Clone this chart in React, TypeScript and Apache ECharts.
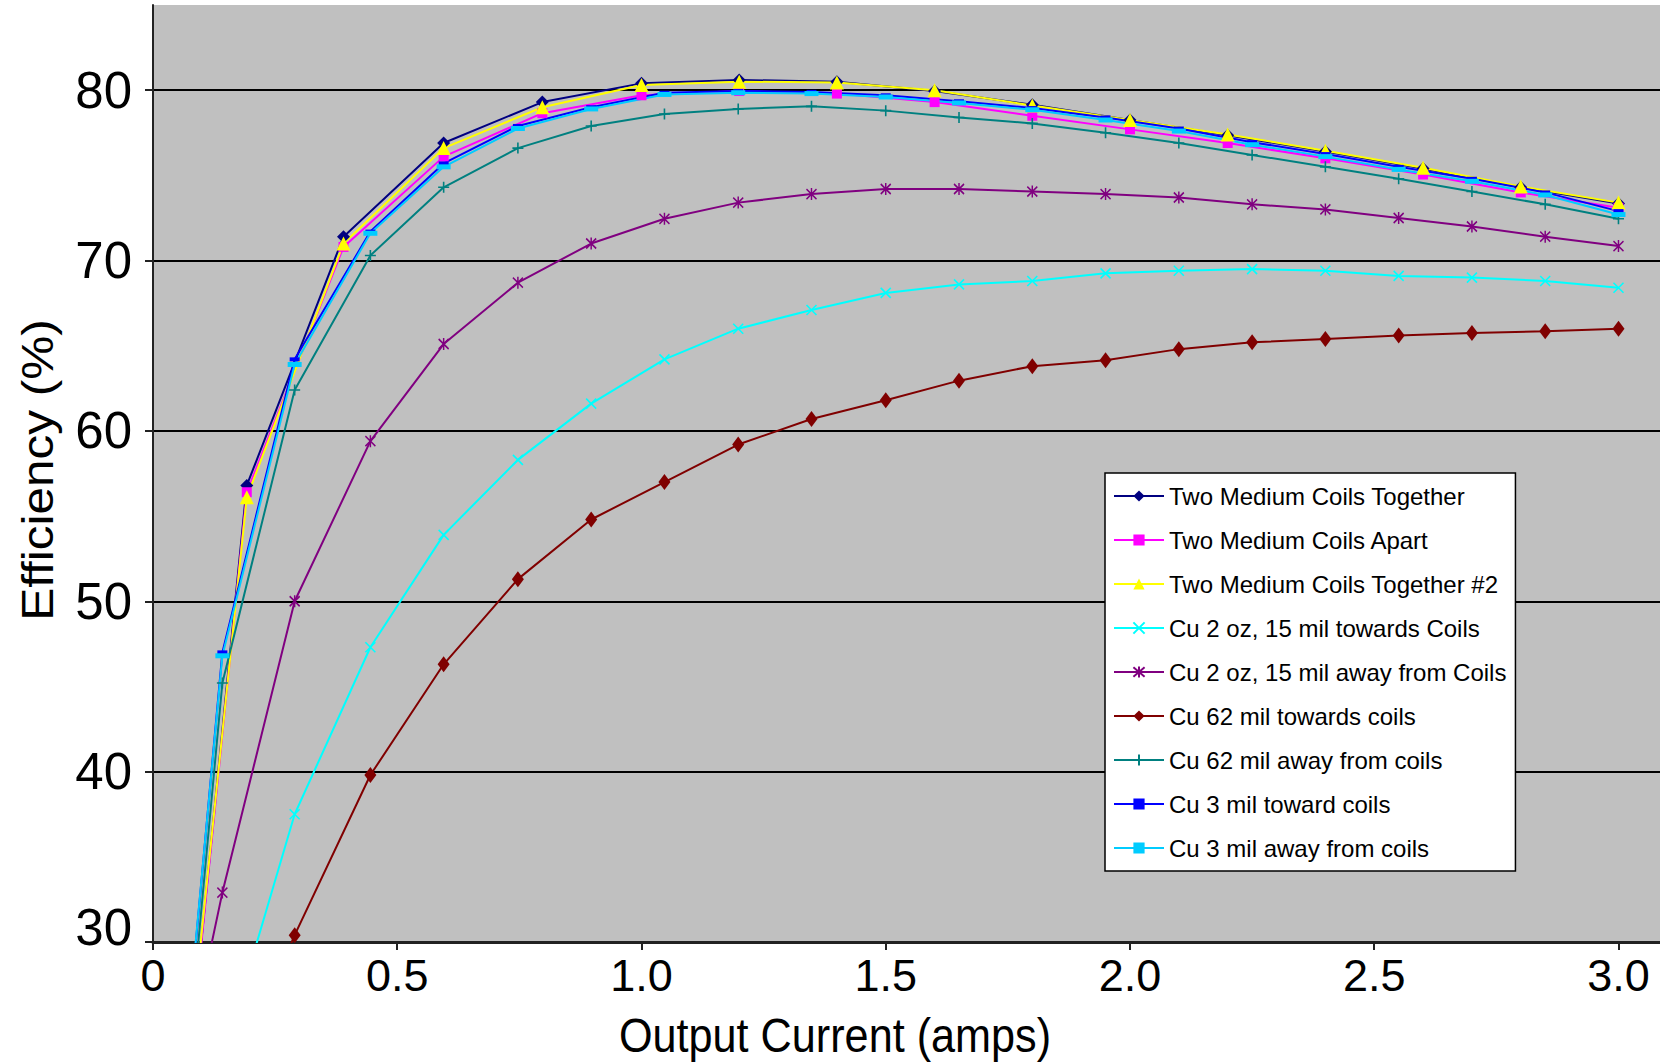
import React, { useEffect, useRef } from 'react';
import * as echarts from 'echarts';

const seriesNames = [
  'Two Medium Coils Together',
  'Two Medium Coils Apart',
  'Two Medium Coils Together #2',
  'Cu 2 oz, 15 mil towards Coils',
  'Cu 2 oz, 15 mil away from Coils',
  'Cu 62 mil towards coils',
  'Cu 62 mil away from coils',
  'Cu 3 mil toward coils',
  'Cu 3 mil away from coils',
];

// current steps (amps)
const xCoarse = [0.08, 0.192, 0.39, 0.595, 0.797, 1.0, 1.2, 1.4, 1.6, 1.8, 2.0, 2.2, 2.4, 2.6, 2.8, 3.0];
const xFine = [0.075, 0.142, 0.29, 0.445, 0.595, 0.747, 0.897, 1.047, 1.198, 1.348, 1.5, 1.65, 1.8, 1.95, 2.1, 2.25, 2.4, 2.55, 2.7, 2.85, 3.0];

// efficiency (%)
const twoTogether = [24.6, 56.8, 71.4, 76.9, 79.3, 80.4, 80.6, 80.5, 79.95, 79.15, 78.25, 77.35, 76.4, 75.4, 74.3, 73.35];
const twoApart = [24.5, 56.4, 70.8, 76.1, 78.65, 79.7, 79.95, 79.8, 79.3, 78.5, 77.7, 76.9, 76.0, 75.05, 74.0, 73.1];
const twoTogether2 = [25.1, 56.1, 71.0, 76.6, 79.0, 80.3, 80.5, 80.45, 80.0, 79.1, 78.25, 77.4, 76.45, 75.45, 74.35, 73.4];
const cu2ozTowards = [16.0, 23.1, 37.5, 47.3, 53.9, 58.3, 61.6, 64.2, 66.0, 67.1, 68.1, 68.6, 68.8, 69.25, 69.4, 69.5, 69.4, 69.1, 69.0, 68.8, 68.4];
const cu2ozAway = [23.8, 32.9, 50.0, 59.4, 65.1, 68.7, 71.0, 72.45, 73.4, 73.9, 74.2, 74.2, 74.05, 73.9, 73.7, 73.3, 73.0, 72.5, 72.0, 71.4, 70.85];
const cu62Towards = [14.0, 20.5, 30.4, 39.8, 46.3, 51.3, 54.8, 57.0, 59.2, 60.7, 61.8, 62.95, 63.8, 64.15, 64.8, 65.2, 65.4, 65.6, 65.75, 65.85, 66.0];
const cu62Away = [24.5, 45.2, 62.4, 70.3, 74.3, 76.6, 77.9, 78.6, 78.9, 79.05, 78.8, 78.4, 78.05, 77.5, 76.9, 76.2, 75.5, 74.8, 74.05, 73.3, 72.45];
const cu3Toward = [26.0, 47.0, 64.2, 71.7, 75.7, 77.9, 79.0, 79.85, 79.95, 79.9, 79.7, 79.35, 78.95, 78.4, 77.75, 76.95, 76.25, 75.5, 74.8, 74.0, 72.9];
const cu3Away = [26.2, 46.8, 63.9, 71.6, 75.5, 77.75, 78.9, 79.75, 79.85, 79.8, 79.6, 79.25, 78.85, 78.25, 77.6, 76.8, 76.1, 75.35, 74.65, 73.85, 72.7];

const yTicks = { min: 30, max: 85, interval: 10 };
const xTicks = { min: 0, max: 3.085, interval: 0.5 };

const REG = "'Liberation Sans', Arial, sans-serif";

const X_MARK = 'path://M0,0L10,10M10,0L0,10';
const STAR_MARK = 'path://M0,1L10,11M10,1L0,11M5,0L5,12';
const PLUS_MARK = 'path://M5,0L5,10M0,5L10,5';

function pairs(xs: number[], ys: number[]) {
  return xs.map((x, i) => [x, ys[i]]);
}

function mk(
  name: string,
  xs: number[],
  ys: number[],
  color: string,
  symbol: string,
  symbolSize: number | number[],
  stroke = false
) {
  return {
    type: 'line',
    name,
    data: pairs(xs, ys),
    symbol,
    symbolSize,
    showSymbol: true,
    clip: true,
    lineStyle: { color, width: 2 },
    itemStyle: stroke
      ? { color, borderColor: color, borderWidth: 1.6 }
      : { color, borderWidth: 0 },
    emphasis: { disabled: true },
  };
}

export default function App() {
  const ref = useRef<HTMLDivElement>(null);
  useEffect(() => {
    document.body.style.margin = '0';
    const chart = echarts.init(ref.current!, null, { renderer: 'svg' });
    const series = [
      mk(seriesNames[0], xCoarse, twoTogether, '#000080', 'diamond', 13),
      mk(seriesNames[1], xCoarse, twoApart, '#FF00FF', 'rect', 10),
      mk(seriesNames[2], xCoarse, twoTogether2, '#FFFF00', 'triangle', 14),
      mk(seriesNames[3], xFine, cu2ozTowards, '#00FFFF', X_MARK, 10, true),
      mk(seriesNames[4], xFine, cu2ozAway, '#800080', STAR_MARK, [10, 12], true),
      mk(seriesNames[5], xFine, cu62Towards, '#800000', 'diamond', [12, 16]),
      mk(seriesNames[6], xFine, cu62Away, '#008080', PLUS_MARK, 11, true),
      mk(seriesNames[7], xFine, cu3Toward, '#0000FF', 'rect', [10, 4]),
      mk(seriesNames[8], xFine, cu3Away, '#00CCFF', 'rect', [14, 5]),
    ];
    const option = {
      animation: false,
      grid: {
        left: 153,
        right: 0,
        top: 5,
        bottom: 122,
        show: true,
        backgroundColor: '#C0C0C0',
        borderWidth: 0,
      },
      xAxis: {
        type: 'value',
        min: xTicks.min,
        max: xTicks.max,
        interval: xTicks.interval,
        axisLine: { show: true, lineStyle: { color: '#222', width: 3 } },
        axisTick: { show: true, length: 8, lineStyle: { color: '#222', width: 2 } },
        splitLine: { show: false },
        axisLabel: {
          formatter: (v: number) => (v === 0 ? '0' : v.toFixed(1)),
          fontSize: 45,
          fontFamily: REG,
          color: '#000',
          margin: 11,
          showMaxLabel: false,
        },
      },
      yAxis: {
        type: 'value',
        min: yTicks.min,
        max: yTicks.max,
        interval: yTicks.interval,
        axisLine: { show: true, lineStyle: { color: '#222', width: 2 } },
        axisTick: { show: true, length: 8, lineStyle: { color: '#222', width: 2 } },
        splitLine: {
          show: true,
          showMinLine: false,
          showMaxLine: false,
          lineStyle: { color: '#000', width: 2 },
        },
        axisLabel: {
          formatter: (v: number) => (v === 30 ? '{b|30}' : '{a|' + v + '}'),
          showMaxLabel: false,
          margin: 21,
          rich: {
            a: { fontSize: 51, fontFamily: REG, color: '#000' },
            b: { fontSize: 51, fontFamily: REG, color: '#000', padding: [0, 0, 30, 0] },
          },
        },
      },
      legend: {
        data: seriesNames,
        orient: 'vertical',
        left: 1105,
        top: 473,
        backgroundColor: '#FFFFFF',
        borderColor: '#000',
        borderWidth: 1.5,
        borderRadius: 0,
        padding: [11, 9, 11, 8],
        itemGap: 20,
        itemWidth: 50,
        itemHeight: 14,
        textStyle: { fontSize: 24, fontFamily: REG, color: '#000' },
        selectedMode: false,
      },
      graphic: [
        {
          type: 'text',
          x: 835,
          y: 1036,
          scaleX: 0.9,
          style: {
            text: 'Output Current (amps)',
            fontSize: 48,
            fontFamily: REG,
            fill: '#000',
            align: 'center',
            verticalAlign: 'middle',
          },
        },
        {
          type: 'text',
          x: 37,
          y: 470,
          rotation: Math.PI / 2,
          scaleX: 1.1,
          style: {
            text: 'Efficiency (%)',
            fontSize: 45,
            fontFamily: REG,
            fill: '#000',
            align: 'center',
            verticalAlign: 'middle',
          },
        },
      ],
      series,
    };
    chart.setOption(option as any);
    return () => chart.dispose();
  }, []);
  return <div ref={ref} style={{ width: 1660, height: 1064 }} />;
}
